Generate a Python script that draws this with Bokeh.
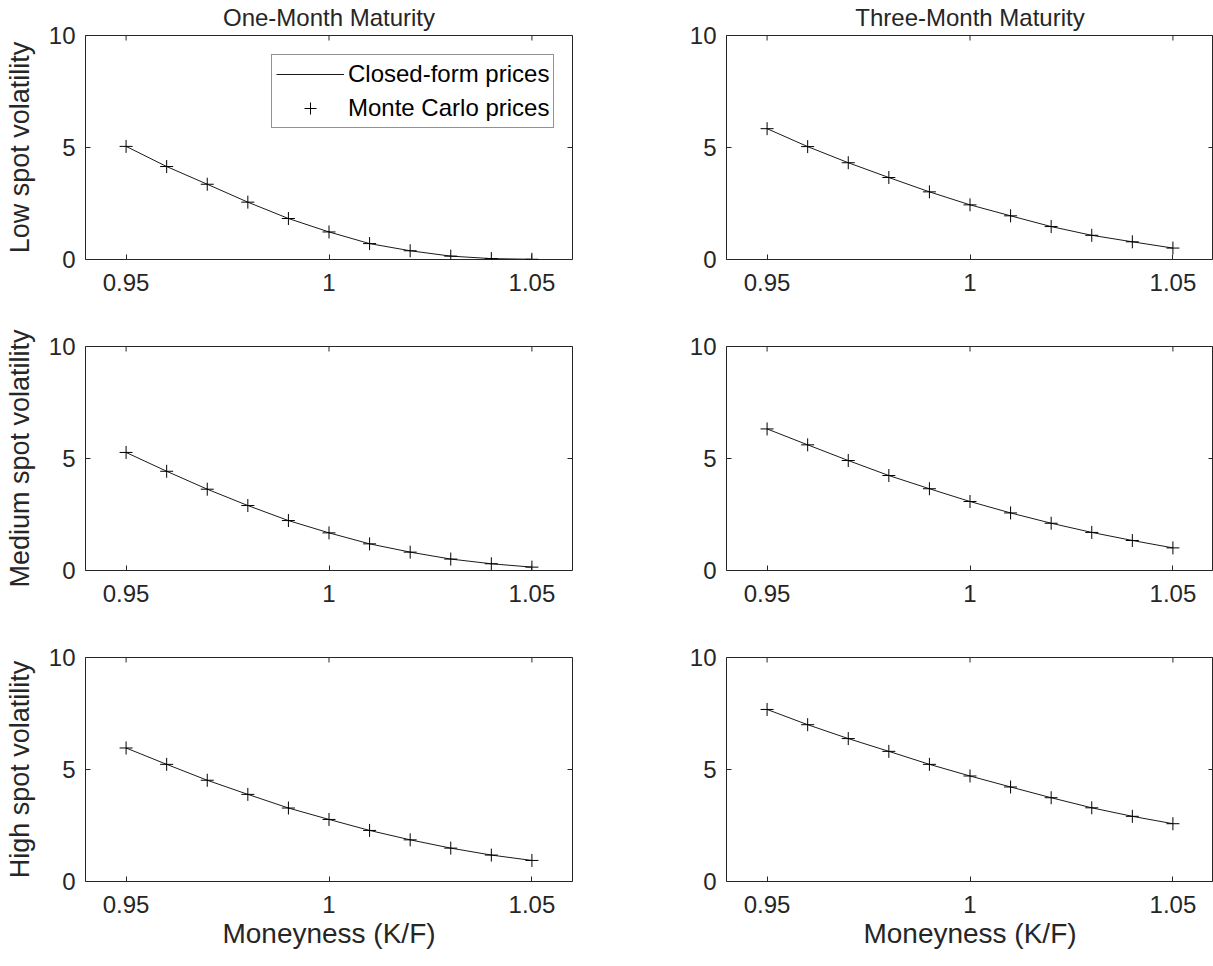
import math
from bokeh.plotting import figure
from bokeh.models import (LinearAxis, FixedTicker, NumeralTickFormatter, Range1d,
                          Legend, LegendItem, Title)
from bokeh.layouts import column, row
from bokeh.embed import file_html
from bokeh.resources import INLINE

# ---------------- data ----------------
moneyness = [0.95, 0.96, 0.97, 0.98, 0.99, 1.00, 1.01, 1.02, 1.03, 1.04, 1.05]
x_ticks = [0.95, 1.0, 1.05]
y_ticks = [0, 5, 10]
col_titles = ["One-Month Maturity", "Three-Month Maturity"]
row_labels = ["Low spot volatility", "Medium spot volatility", "High spot volatility"]
x_label = "Moneyness (K/F)"
legend_labels = ["Closed-form prices", "Monte Carlo prices"]

closed_low_1m = [5.05, 4.15, 3.36, 2.56, 1.83, 1.23, 0.71, 0.39, 0.15, 0.04, 0.01]
mc_low_1m     = [5.05, 4.15, 3.36, 2.56, 1.83, 1.23, 0.71, 0.39, 0.15, 0.04, 0.01]
closed_low_3m = [5.84, 5.04, 4.32, 3.66, 3.02, 2.44, 1.95, 1.47, 1.08, 0.79, 0.51]
mc_low_3m     = [5.84, 5.04, 4.32, 3.66, 3.02, 2.44, 1.95, 1.47, 1.08, 0.79, 0.51]
closed_med_1m = [5.27, 4.43, 3.63, 2.90, 2.23, 1.68, 1.19, 0.82, 0.51, 0.30, 0.15]
mc_med_1m     = [5.27, 4.43, 3.63, 2.90, 2.23, 1.68, 1.19, 0.82, 0.51, 0.30, 0.15]
closed_med_3m = [6.32, 5.61, 4.91, 4.24, 3.65, 3.08, 2.57, 2.11, 1.70, 1.34, 1.01]
mc_med_3m     = [6.32, 5.61, 4.91, 4.24, 3.65, 3.08, 2.57, 2.11, 1.70, 1.34, 1.01]
closed_high_1m = [5.96, 5.23, 4.52, 3.89, 3.28, 2.77, 2.28, 1.86, 1.49, 1.18, 0.94]
mc_high_1m     = [5.96, 5.23, 4.52, 3.89, 3.28, 2.77, 2.28, 1.86, 1.49, 1.18, 0.94]
closed_high_3m = [7.68, 7.00, 6.38, 5.81, 5.23, 4.71, 4.22, 3.74, 3.29, 2.91, 2.58]
mc_high_3m     = [7.68, 7.00, 6.38, 5.81, 5.23, 4.71, 4.22, 3.74, 3.29, 2.91, 2.58]

panels = [
    [(closed_low_1m, mc_low_1m), (closed_low_3m, mc_low_3m)],
    [(closed_med_1m, mc_med_1m), (closed_med_3m, mc_med_3m)],
    [(closed_high_1m, mc_high_1m), (closed_high_3m, mc_high_3m)],
]

# ---------------- style ----------------
FONT = "Liberation Sans"
TXT = "#262626"
X_MIN, X_MAX = 0.94, 1.06
Y_MIN, Y_MAX = 0, 10
FRAME_W = 487
FRAME_H = 224
left_border = [85, 94]
right_border = [60, 0]
top_border = [35, 37, 37]
bottom_border = [50, 50, 83]


def style_axis(ax, ticks):
    ax.ticker = FixedTicker(ticks=ticks)
    ax.axis_line_color = None
    ax.major_tick_in = 5
    ax.major_tick_out = 0
    ax.minor_tick_line_color = None
    ax.major_tick_line_color = TXT
    ax.major_label_text_font = FONT
    ax.major_label_text_color = TXT
    ax.major_label_text_font_size = "24px"


rows = []
for r in range(3):
    figs = []
    for c in range(2):
        closed, mc = panels[r][c]
        w = left_border[c] + FRAME_W + right_border[c]
        h = top_border[r] + FRAME_H + bottom_border[r]
        p = figure(width=w, height=h, output_backend="svg", toolbar_location=None,
                   x_range=Range1d(X_MIN, X_MAX), y_range=Range1d(Y_MIN, Y_MAX),
                   x_axis_type=None, y_axis_type=None, title=None,
                   min_border_left=left_border[c], min_border_right=right_border[c],
                   min_border_top=top_border[r], min_border_bottom=bottom_border[r])
        p.background_fill_color = "white"
        p.border_fill_color = "white"
        p.outline_line_color = TXT
        p.outline_line_width = 1
        p.grid.visible = False

        # bottom axis
        xb = LinearAxis()
        style_axis(xb, x_ticks)
        xb.formatter = NumeralTickFormatter(format="0.[00]")
        xb.major_label_standoff = 14
        if r == 2:
            xb.axis_label = x_label
            xb.axis_label_text_font = FONT
            xb.axis_label_text_font_size = "28px"
            xb.axis_label_text_font_style = "normal"
            xb.axis_label_text_color = TXT
            xb.axis_label_standoff = 2
        p.add_layout(xb, "below")

        # left axis
        yl = LinearAxis()
        style_axis(yl, y_ticks)
        yl.major_label_standoff = 10
        if c == 0:
            yl.axis_label = row_labels[r]
            yl.axis_label_text_font = FONT
            yl.axis_label_text_font_size = "27px"
            yl.axis_label_text_font_style = "normal"
            yl.axis_label_text_color = TXT
            yl.axis_label_standoff = 11
        p.add_layout(yl, "left")

        # inward ticks on the top and right edges (clipped to the frame)
        p.scatter(x_ticks, [Y_MAX] * len(x_ticks), marker="dash", size=10,
                  angle=math.pi / 2, line_color=TXT, line_width=1)
        p.scatter([X_MAX] * len(y_ticks), y_ticks, marker="dash", size=10,
                  line_color=TXT, line_width=1)

        if r == 0:
            t = Title(text=col_titles[c], align="center", text_font=FONT,
                      text_font_size="24px", text_font_style="normal",
                      text_color=TXT, standoff=6, vertical_align="top")
            p.add_layout(t, "above")

        lr = p.line(moneyness, closed, line_color="#1a1a1a", line_width=1)
        sr = p.scatter(moneyness, mc, marker="cross", size=13,
                       line_color="black", line_width=1)

        if r == 0 and c == 0:
            leg = Legend(items=[LegendItem(label=legend_labels[0], renderers=[lr]),
                                LegendItem(label=legend_labels[1], renderers=[sr])],
                         location=(186, 131))
            leg.label_text_font = FONT
            leg.label_text_font_size = "24px"
            leg.label_text_color = "black"
            leg.glyph_width = 68
            leg.glyph_height = 30
            leg.label_height = 30
            leg.label_standoff = 4
            leg.padding = 4
            leg.spacing = 4
            leg.margin = 0
            leg.border_line_color = TXT
            leg.border_line_width = 1
            leg.background_fill_color = "white"
            leg.background_fill_alpha = 1
            p.add_layout(leg, "center")
        figs.append(p)
    rows.append(row(*figs))

layout = column(*rows)
open("out.html", "w").write(file_html(layout, INLINE))
